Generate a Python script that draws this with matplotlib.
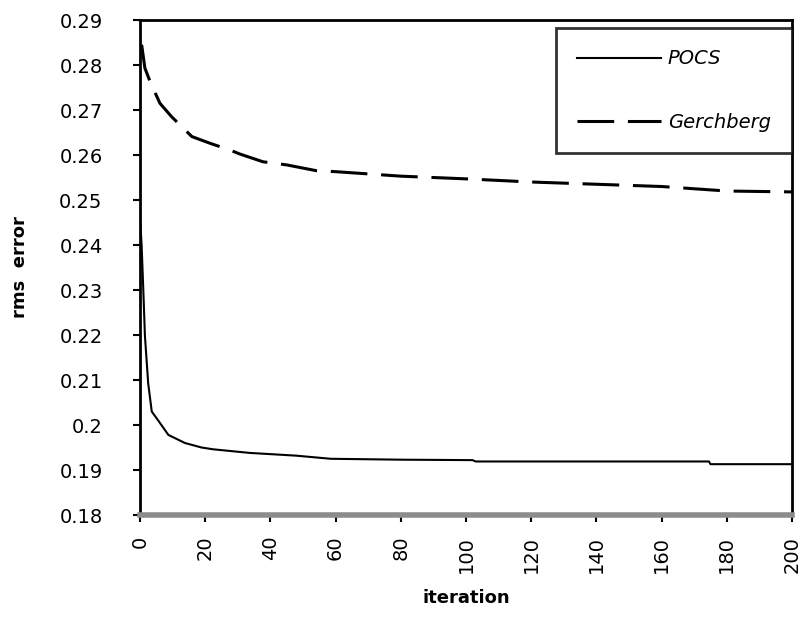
"""rms error vs iteration: POCS vs Gerchberg reconstruction."""

import matplotlib
matplotlib.use("Agg")
import matplotlib.pyplot as plt
from matplotlib.ticker import FuncFormatter

# values
pocs_iter = [0, 0.5, 1, 1.5, 2.5, 3.6, 5.1, 8.7, 13.8, 18.9, 22.5, 33.7, 47.8,
             58.5, 80, 102, 103, 174.5, 175, 200]
pocs_err = [0.2461, 0.2398, 0.2302, 0.2199, 0.2093, 0.2030, 0.2015, 0.1978,
            0.1960, 0.1950, 0.1946, 0.1938, 0.1932, 0.1925, 0.1923, 0.1922,
            0.1919, 0.1919, 0.1913, 0.1913]

gerch_iter = [0.5, 1.5, 3.1, 6.1, 9.7, 15.9, 21.5, 27.6, 30.7, 37.7, 45, 54.2,
              60, 80, 100, 120, 140, 160, 170, 180, 200]
gerch_err = [0.2845, 0.2793, 0.2763, 0.2715, 0.2685, 0.2641, 0.2626, 0.2611,
             0.2602, 0.2585, 0.2578, 0.2565, 0.2563, 0.2553, 0.2547, 0.2540,
             0.2535, 0.2530, 0.2525, 0.2520, 0.2518]

x_ticks = list(range(0, 201, 20))
y_ticks = [0.18, 0.19, 0.20, 0.21, 0.22, 0.23, 0.24, 0.25, 0.26, 0.27, 0.28, 0.29]

fig = plt.figure(figsize=(8.01, 6.39), dpi=100)
ax = fig.add_axes([0.1748, 0.194, 0.814, 0.7747])

ax.plot(pocs_iter, pocs_err, color="black", linewidth=1.5, label="POCS")
ax.plot(gerch_iter, gerch_err, color="black", linewidth=2.2,
        dashes=(12, 4.5), label="Gerchberg")

ax.set_xlim(0, 200)
ax.set_ylim(0.18, 0.29)
ax.set_xticks(x_ticks)
ax.set_yticks(y_ticks)
ax.yaxis.set_major_formatter(FuncFormatter(lambda v, p: f"{round(v, 2):g}"))

for lab in ax.get_xticklabels() + ax.get_yticklabels():
    lab.set_fontsize(14)
    lab.set_family("DejaVu Sans")
for lab in ax.get_xticklabels():
    lab.set_rotation(90)

ax.tick_params(direction="out", length=5, width=1.5, color="black")
ax.tick_params(axis="y", pad=22)
ax.tick_params(axis="x", pad=10)

for side in ("top", "left", "right"):
    ax.spines[side].set_linewidth(2)
    ax.spines[side].set_color("black")
ax.spines["bottom"].set_linewidth(4)
ax.spines["bottom"].set_color("#8c8c8c")

ax.set_xlabel("iteration", fontsize=13, fontweight="bold", family="DejaVu Sans")
ax.set_ylabel("rms  error", fontsize=13, fontweight="bold", family="DejaVu Sans")
ax.xaxis.set_label_coords(0.5, -0.15)
ax.yaxis.set_label_coords(-0.17, 0.5)

leg = ax.legend(loc="upper right", bbox_to_anchor=(1.0, 0.984),
                prop={"family": "DejaVu Sans", "style": "italic", "size": 14},
                frameon=True, fancybox=False, handlelength=4.3,
                handletextpad=0.35, labelspacing=2.3, borderpad=1.1,
                borderaxespad=0)
leg.get_frame().set_edgecolor("black")
leg.get_frame().set_linewidth(2)

fig.savefig("out.png", dpi=100)
